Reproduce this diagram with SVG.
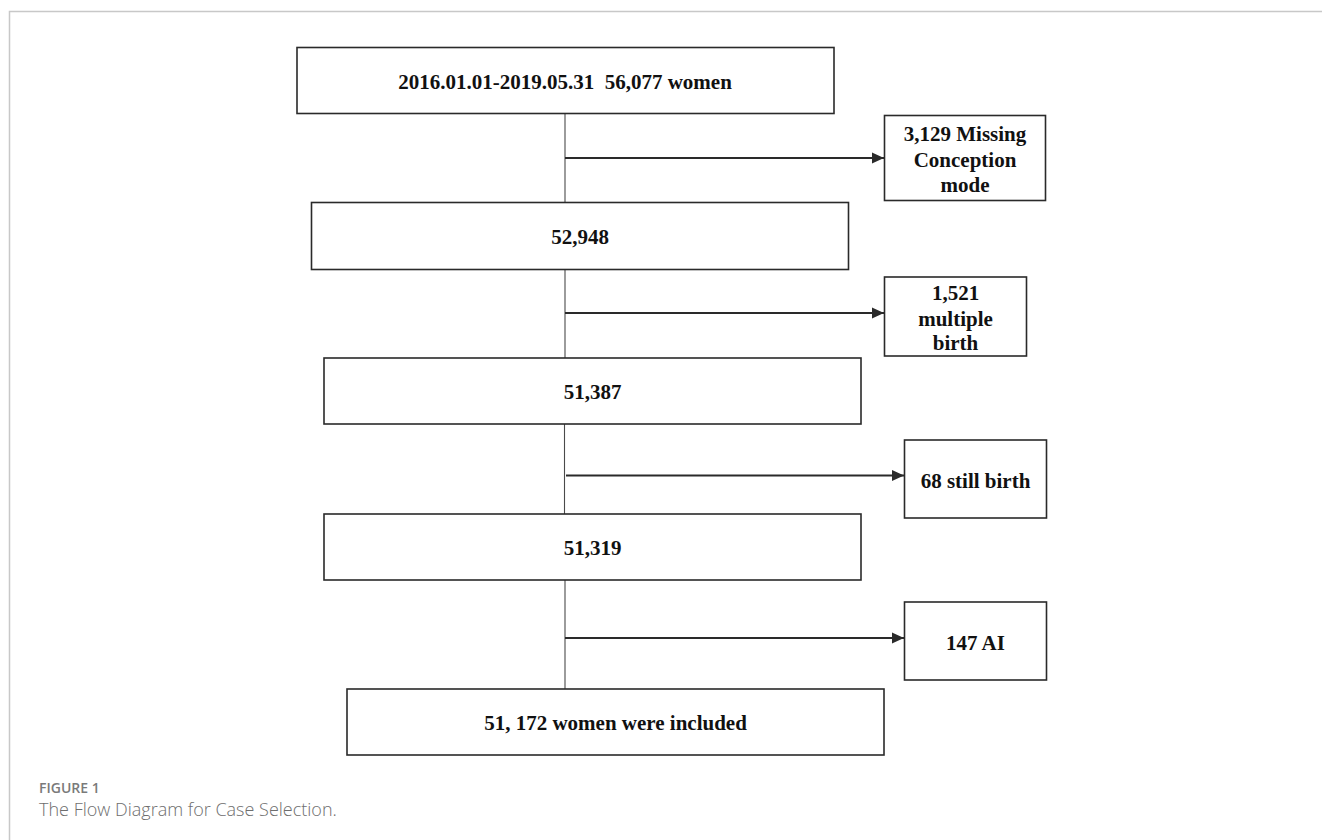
<svg xmlns="http://www.w3.org/2000/svg" width="1322" height="840" viewBox="0 0 1322 840">
<defs>
<style>
.box{fill:#fff;stroke:#2a2a2a;stroke-width:1.6}
.t{font-family:"Liberation Serif","Times New Roman",serif;font-weight:bold;font-size:21px;fill:#111;text-anchor:middle}
.v{stroke:#4a4a4a;stroke-width:1.1;fill:none}
.a{stroke:#2a2a2a;stroke-width:2;fill:none}
.frame{stroke:#c8c8c8;stroke-width:1.5;fill:none}
</style>
<marker id="ah" markerUnits="userSpaceOnUse" markerWidth="12" markerHeight="12" viewBox="0 0 10 10" refX="10" refY="5" orient="auto">
<path d="M0,0.5 L10,5 L0,9.5 Z" fill="#2a2a2a"/>
</marker>
</defs>
<rect width="1322" height="840" fill="#fff"/>
<path class="frame" d="M9.5,840 V11.5 H1322"/>

<g id="connectors">
<line class="v" x1="565" y1="113.5" x2="565" y2="202.5"/>
<line class="v" x1="565" y1="269.5" x2="565" y2="358"/>
<line class="v" x1="564.5" y1="424" x2="564.5" y2="514"/>
<line class="v" x1="565" y1="580" x2="565" y2="689"/>
<line class="a" x1="565" y1="158" x2="884" y2="158" marker-end="url(#ah)"/>
<line class="a" x1="565" y1="313" x2="884" y2="313" marker-end="url(#ah)"/>
<line class="a" x1="566" y1="475.5" x2="904" y2="475.5" marker-end="url(#ah)"/>
<line class="a" x1="565" y1="638" x2="904" y2="638" marker-end="url(#ah)"/>
</g>

<g id="n1"><rect class="box" x="297" y="47.5" width="537" height="66"/><text class="t" x="565" y="89.3" xml:space="preserve" style="white-space:pre">2016.01.01-2019.05.31  56,077 women</text></g>
<g id="x1"><rect class="box" x="884.5" y="115.5" width="161" height="85"/><text class="t" x="965" y="141">3,129 Missing</text><text class="t" x="965" y="167">Conception</text><text class="t" x="965" y="192">mode</text></g>
<g id="n2"><rect class="box" x="311.5" y="202.5" width="537" height="67"/><text class="t" x="580" y="244">52,948</text></g>
<g id="x2"><rect class="box" x="884.5" y="277" width="142" height="79"/><text class="t" x="955.5" y="300">1,521</text><text class="t" x="955.5" y="326">multiple</text><text class="t" x="955.5" y="350">birth</text></g>
<g id="n3"><rect class="box" x="324" y="358" width="537" height="66"/><text class="t" x="592.5" y="399">51,387</text></g>
<g id="x3"><rect class="box" x="904.5" y="440" width="142" height="78"/><text class="t" x="975.5" y="488">68 still birth</text></g>
<g id="n4"><rect class="box" x="324" y="514" width="537" height="66"/><text class="t" x="592.5" y="555">51,319</text></g>
<g id="x4"><rect class="box" x="904.5" y="602" width="142" height="78"/><text class="t" x="975.5" y="650">147 AI</text></g>
<g id="n5"><rect class="box" x="347" y="689" width="537" height="66"/><text class="t" x="615.5" y="730">51, 172 women were included</text></g>

<g id="caption">
<text x="39" y="792.5" font-family="Open Sans, sans-serif" font-weight="600" font-size="14" fill="#7a7a7a">FIGURE 1</text>
<text x="39" y="815.5" font-family="Open Sans, sans-serif" font-weight="300" font-size="18" fill="#6e6e6e">The Flow Diagram for Case Selection.</text>
</g>
</svg>
